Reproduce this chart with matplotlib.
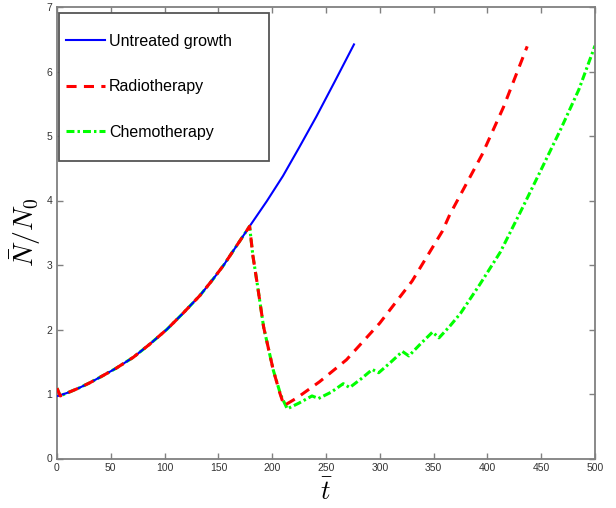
import numpy as np
import matplotlib
matplotlib.use("Agg")
import matplotlib.pyplot as plt
from matplotlib.patches import Rectangle

plt.rcParams['font.family'] = ['Liberation Sans', 'DejaVu Sans']
plt.rcParams['mathtext.fontset'] = 'cm'

# untreated growth
t_untreated = [1, 10, 20, 30, 40, 55, 71, 86, 102, 117, 133, 145, 155, 167, 179,
               195, 210, 225, 241, 258, 276]
n_untreated = [0.97, 1.02, 1.09, 1.17, 1.26, 1.40, 1.57, 1.77, 2.00, 2.25, 2.53, 2.78,
               3.00, 3.30, 3.60, 3.99, 4.38, 4.82, 5.30, 5.84, 6.42]

# radiotherapy
t_radio = [0, 3, 10, 20, 30, 40, 55, 71, 86, 102, 117, 133, 145, 155, 167, 179,
           182, 186, 192, 201, 207, 211, 223, 244, 269, 300, 330, 358, 365, 395, 415, 437]
n_radio = [1.09, 0.97, 1.02, 1.09, 1.17, 1.26, 1.40, 1.57, 1.77, 2.00, 2.25, 2.53, 2.78,
           3.00, 3.30, 3.60, 3.15, 2.72, 2.04, 1.37, 1.02, 0.82, 0.94, 1.19, 1.53, 2.10,
           2.75, 3.52, 3.78, 4.71, 5.45, 6.39]

# chemotherapy
t_chemo = [0, 3, 10, 20, 30, 40, 55, 71, 86, 102, 117, 133, 145, 155, 167, 179,
           182, 186, 192, 201, 208, 214, 225, 237, 243, 255, 266, 272, 283, 293, 299,
           310, 321, 327, 338, 349, 355, 365, 375, 393, 412, 433, 450, 468, 485, 500]
n_chemo = [1.09, 0.97, 1.02, 1.09, 1.17, 1.26, 1.40, 1.57, 1.77, 2.00, 2.25, 2.53, 2.78,
           3.00, 3.30, 3.60, 3.15, 2.72, 2.04, 1.37, 0.98, 0.77, 0.86, 0.97, 0.93, 1.03,
           1.16, 1.10, 1.24, 1.38, 1.33, 1.49, 1.66, 1.59, 1.78, 1.96, 1.87, 2.05, 2.25,
           2.70, 3.20, 3.90, 4.48, 5.10, 5.72, 6.40]

W, H = 616, 508
fig = plt.figure(figsize=(W/100, H/100), dpi=100)
ax = fig.add_axes([57/W, 1 - 458.5/H, (595 - 57)/W, (458.5 - 7)/H])

ax.plot(t_chemo, n_chemo, color=(0, 1, 0), lw=2.2, linestyle=(0, (2.6, 1.0, 0.8, 1.0)),
        label='Chemotherapy', zorder=2)
ax.plot(t_untreated, n_untreated, color=(0, 0, 1), lw=1.5, label='Untreated growth', zorder=3)
ax.plot(t_radio, n_radio, color=(1, 0, 0), lw=2.2, linestyle=(0, (3.3, 2.4)),
        label='Radiotherapy', zorder=4)

ax.set_xlim(0, 500)
ax.set_ylim(0, 7)
ax.set_xticks(np.arange(0, 501, 50))
ax.set_yticks(np.arange(0, 8, 1))

grey = '#808080'
for s in ax.spines.values():
    s.set_color(grey)
    s.set_linewidth(1.3)
ax.tick_params(direction='in', length=4, width=1, colors=grey, labelcolor='#333333',
               labelsize=7.5, top=True, right=True)

ax.set_xlabel(r'$\bar{t}$', fontsize=19, labelpad=4)
ax.set_ylabel(r'$\bar{N}/N_0$', fontsize=20, labelpad=2)

# legend box drawn separately (matlab style, wide frame)
box = Rectangle((59/W, 1 - 161/H), (269 - 59)/W, (161 - 13)/H, transform=fig.transFigure,
                facecolor='white', edgecolor='#555555', lw=1.3, zorder=5)
fig.patches.append(box)

handles, labels = ax.get_legend_handles_labels()
order = [1, 2, 0]
leg = fig.legend([handles[i] for i in order], [labels[i] for i in order],
                 loc='upper left', bbox_to_anchor=(66/W, 1 - 34/H),
                 fontsize=11.5, labelspacing=1.9, handlelength=2.45, handletextpad=0.25,
                 borderpad=0, borderaxespad=0, frameon=False)
leg.set_zorder(6)

fig.savefig('out.png', dpi=100)
